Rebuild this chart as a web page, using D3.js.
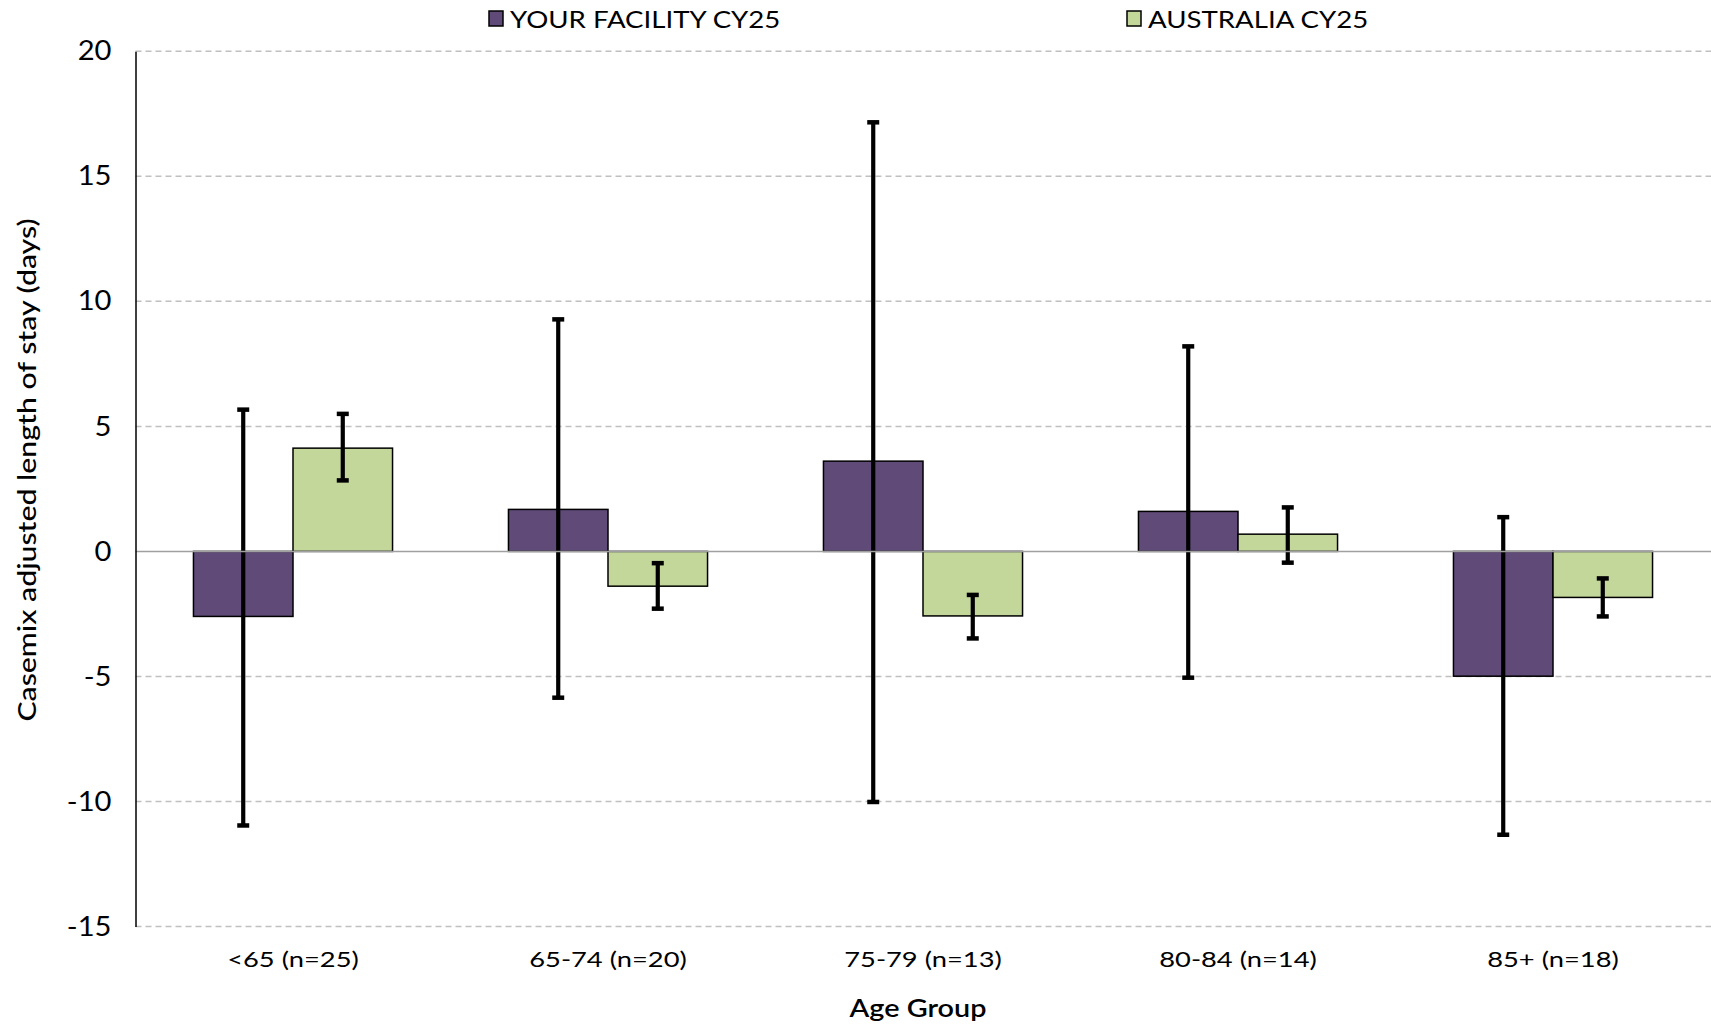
<!DOCTYPE html>
<html>
<head>
<meta charset="utf-8">
<script src="https://cdn.jsdelivr.net/npm/d3@7"></script>
<style>
  html, body { margin: 0; padding: 0; background: #fff; }
  svg { display: block; }
  text { font-family: "Century Gothic", "Lato", "DejaVu Sans", sans-serif; fill: #000; }
</style>
</head>
<body>
<svg id="chart" width="1711" height="1027"></svg>
<script>
const categories = ["<65 (n=25)", "65-74 (n=20)", "75-79 (n=13)", "80-84 (n=14)", "85+ (n=18)"];
const seriesNames = ["YOUR FACILITY CY25", "AUSTRALIA CY25"];
const facilityValues = [-2.6, 1.68, 3.61, 1.6, -4.99];
const facilityLow = [-10.96, -5.85, -10.02, -5.05, -11.33];
const facilityHigh = [5.67, 9.28, 17.16, 8.2, 1.37];
const australiaValues = [4.13, -1.39, -2.58, 0.69, -1.84];
const australiaLow = [2.84, -2.29, -3.48, -0.45, -2.6];
const australiaHigh = [5.5, -0.47, -1.74, 1.76, -1.08];
const yTicks = [20, 15, 10, 5, 0, -5, -10, -15];
const colors = ["#5F4A78", "#C4D79B"];

const svg = d3.select("#chart");
const margin = { left: 135.5, right: 1710.5, top: 51.3, bottom: 926.5 };

// widen text to mimic the wide geometric face of the original
function widen(sel, factor) {
  sel.each(function () {
    const w = this.getComputedTextLength();
    d3.select(this).attr("textLength", w * factor).attr("lengthAdjust", "spacingAndGlyphs");
  });
}

const y = d3.scaleLinear().domain([-15, 20]).range([margin.bottom, margin.top]);
const x0 = d3.scaleBand().domain(categories).range([margin.left, margin.right])
  .paddingInner(0.368).paddingOuter(0.184);
const x1 = d3.scaleBand().domain(seriesNames).range([0, x0.bandwidth()]);

// gridlines
svg.append("g").selectAll("line").data(yTicks.filter(d => d !== 0)).join("line")
  .attr("x1", margin.left).attr("x2", 1711)
  .attr("y1", d => y(d)).attr("y2", d => y(d))
  .attr("stroke", "#C0C0C0").attr("stroke-width", 1.5).attr("stroke-dasharray", "6,4");

const data = categories.map((c, i) => ({
  cat: c,
  vals: [
    { s: seriesNames[0], v: facilityValues[i], lo: facilityLow[i], hi: facilityHigh[i], c: colors[0] },
    { s: seriesNames[1], v: australiaValues[i], lo: australiaLow[i], hi: australiaHigh[i], c: colors[1] }
  ]
}));

const groups = svg.append("g").selectAll("g").data(data).join("g")
  .attr("transform", d => `translate(${x0(d.cat)},0)`);

groups.selectAll("rect").data(d => d.vals).join("rect")
  .attr("x", d => x1(d.s))
  .attr("width", x1.bandwidth())
  .attr("y", d => y(Math.max(0, d.v)))
  .attr("height", d => Math.abs(y(d.v) - y(0)))
  .attr("fill", d => d.c)
  .attr("stroke", "#000").attr("stroke-width", 1.5);

// zero line
svg.append("line").attr("x1", margin.left).attr("x2", 1711)
  .attr("y1", y(0)).attr("y2", y(0)).attr("stroke", "#A0A0A0").attr("stroke-width", 1.5);

// error bars
const eb = groups.selectAll("g.err").data(d => d.vals).join("g").attr("class", "err");
eb.append("line")
  .attr("x1", d => x1(d.s) + x1.bandwidth() / 2).attr("x2", d => x1(d.s) + x1.bandwidth() / 2)
  .attr("y1", d => y(d.lo)).attr("y2", d => y(d.hi))
  .attr("stroke", "#000").attr("stroke-width", 4.2);
["lo", "hi"].forEach(k => {
  eb.append("line")
    .attr("x1", d => x1(d.s) + x1.bandwidth() / 2 - 6).attr("x2", d => x1(d.s) + x1.bandwidth() / 2 + 6)
    .attr("y1", d => y(d[k])).attr("y2", d => y(d[k]))
    .attr("stroke", "#000").attr("stroke-width", 4.5);
});

// y axis
const yAxis = svg.append("g").attr("transform", `translate(${margin.left},0)`)
  .call(d3.axisLeft(y).tickValues(yTicks).tickSize(0).tickPadding(24).tickFormat(d => String(d)));
yAxis.select(".domain").attr("stroke", "#000").attr("stroke-width", 1.5);
yAxis.selectAll("text").style("font-size", "27px").attr("fill", "#000")
  .style("font-family", '"Century Gothic", "Lato", sans-serif');
widen(yAxis.selectAll("text"), 1.08);

// x axis labels
const xAxis = svg.append("g").attr("transform", `translate(0,${margin.bottom})`)
  .call(d3.axisBottom(x0).tickSize(0).tickPadding(26));
xAxis.select(".domain").remove();
xAxis.selectAll("text").style("font-size", "21px").attr("fill", "#000")
  .style("font-family", '"Century Gothic", "Lato", sans-serif');
widen(xAxis.selectAll("text"), 1.3);

// axis titles
const xt = svg.append("text").attr("x", 918).attr("y", 1017).attr("text-anchor", "middle")
  .style("font-size", "24px").style("font-weight", "600").text("Age Group");
widen(xt, 1.2);
const yt = svg.append("text").attr("transform", "translate(36,470) rotate(-90)").attr("text-anchor", "middle")
  .style("font-size", "25px").style("font-weight", "500").text("Casemix adjusted length of stay (days)");
widen(yt, 1.21);

// legend
const legendX = [489, 1127];
const leg = svg.append("g").selectAll("g").data(seriesNames).join("g")
  .attr("transform", (d, i) => `translate(${legendX[i]},11)`);
leg.append("rect").attr("width", 14).attr("height", 15)
  .attr("fill", (d, i) => colors[i]).attr("stroke", "#000").attr("stroke-width", 1.5);
const legText = leg.append("text").attr("x", 21).attr("y", 16.5).style("font-size", "24px").text(d => d);
widen(legText, 1.15);
</script>
</body>
</html>
